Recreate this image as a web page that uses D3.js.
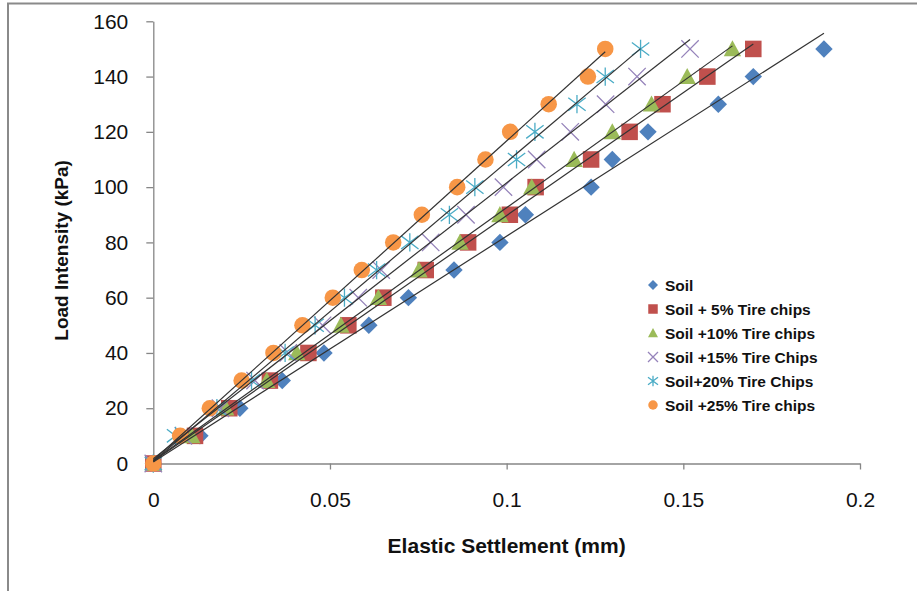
<!DOCTYPE html>
<html>
<head>
<meta charset="utf-8">
<script src="https://cdn.jsdelivr.net/npm/d3@7"></script>
<style>
  body { margin: 0; background: #fff; }
  svg { display: block; }
</style>
</head>
<body>
<div id="chart"></div>
<script>
// load steps (kPa) shared by every series
const loads = [0, 10, 20, 30, 40, 50, 60, 70, 80, 90, 100, 110, 120, 130, 140, 150];

// elastic settlement (mm)
const soil   = [0, 0.0132, 0.0245, 0.0365, 0.0483, 0.0610, 0.0722, 0.0851, 0.0981, 0.1053, 0.1239, 0.1299, 0.1400, 0.1599, 0.1698, 0.1898];
const tire5  = [0, 0.0118, 0.0215, 0.0330, 0.0439, 0.0552, 0.0651, 0.0771, 0.0891, 0.1009, 0.1082, 0.1239, 0.1348, 0.1441, 0.1568, 0.1698];
const tire10 = [0, 0.0109, 0.0205, 0.0321, 0.0406, 0.0531, 0.0637, 0.0752, 0.0868, 0.0981, 0.1071, 0.1191, 0.1299, 0.1410, 0.1511, 0.1639];
const tire15 = [0, 0.0085, 0.0190, 0.0288, 0.0382, 0.0479, 0.0580, 0.0645, 0.0785, 0.0885, 0.0991, 0.1085, 0.1180, 0.1280, 0.1369, 0.1519];
const tire20 = [0, 0.0063, 0.0180, 0.0278, 0.0373, 0.0458, 0.0541, 0.0632, 0.0726, 0.0838, 0.0910, 0.1028, 0.1080, 0.1199, 0.1279, 0.1379];
const tire25 = [0, 0.0076, 0.0160, 0.0250, 0.0340, 0.0422, 0.0508, 0.0590, 0.0679, 0.0760, 0.0860, 0.0940, 0.1010, 0.1119, 0.1230, 0.1279];

const seriesNames = ['Soil', 'Soil + 5% Tire chips', 'Soil +10% Tire chips', 'Soil +15% Tire Chips', 'Soil+20% Tire Chips', 'Soil +25% Tire chips'];
const seriesValues = [soil, tire5, tire10, tire15, tire20, tire25];
const seriesColors = ['#4F81BD', '#C0504D', '#9BBB59', '#9583BA', '#4BACC6', '#F79646'];
const seriesShapes = ['diamond', 'square', 'triangle', 'x', 'star', 'circle'];

const xTicks = [0, 0.05, 0.1, 0.15, 0.2];
const yTicks = [0, 20, 40, 60, 80, 100, 120, 140, 160];

const width = 917, height = 591;
const margin = {top: 21.3, right: 57, bottom: 127.5, left: 153.3};
const font = "'Liberation Sans', Arial, sans-serif";

const svg = d3.select('#chart')
  .append('svg')
    .attr('width', width)
    .attr('height', height);

// outer chart border (only left and top visible in the crop)
svg.append('rect')
  .attr('x', 8).attr('y', 3.5)
  .attr('width', 1000).attr('height', 1000)
  .attr('fill', 'none')
  .attr('stroke', '#8a8a8a')
  .attr('stroke-width', 2);

const x = d3.scaleLinear().domain([0, 0.2]).range([margin.left, width - margin.right]);
const y = d3.scaleLinear().domain([0, 160]).range([height - margin.bottom, margin.top]);

// axes
const xAxis = svg.append('g')
  .attr('transform', `translate(0,${y(0)})`)
  .call(d3.axisBottom(x).tickValues(xTicks).tickFormat(d => String(d))
    .tickSizeInner(6).tickSizeOuter(0).tickPadding(23));

const yAxis = svg.append('g')
  .attr('transform', `translate(${x(0)},0)`)
  .call(d3.axisLeft(y).tickValues(yTicks).tickFormat(d => String(d))
    .tickSizeInner(7).tickSizeOuter(0).tickPadding(18));

[xAxis, yAxis].forEach(a => {
  a.select('.domain').attr('stroke', '#868686').attr('stroke-width', 1.3);
  a.selectAll('.tick line').attr('stroke', '#868686').attr('stroke-width', 1.3);
  a.selectAll('.tick text')
    .attr('font-family', font)
    .attr('font-size', 21)
    .attr('fill', '#111');
});

// marker shapes
function shapePath(shape, s) {
  const p = d3.path();
  if (shape === 'diamond') {
    p.moveTo(0, -s); p.lineTo(s, 0); p.lineTo(0, s); p.lineTo(-s, 0); p.closePath();
  } else if (shape === 'square') {
    const h = s * 0.95;
    p.rect(-h, -h, 2 * h, 2 * h);
  } else if (shape === 'triangle') {
    p.moveTo(0, -s); p.lineTo(s, s * 0.85); p.lineTo(-s, s * 0.85); p.closePath();
  } else if (shape === 'circle') {
    p.arc(0, 0, s * 0.95, 0, 2 * Math.PI);
  } else if (shape === 'x') {
    p.moveTo(-s, -s); p.lineTo(s, s); p.moveTo(s, -s); p.lineTo(-s, s);
  } else if (shape === 'star') {
    p.moveTo(-s, -s * 0.75); p.lineTo(s, s * 0.75); p.moveTo(s, -s * 0.75); p.lineTo(-s, s * 0.75);
    p.moveTo(0, -s * 1.05); p.lineTo(0, s * 1.05);
  }
  return p.toString();
}
const strokeOnly = sh => sh === 'x' || sh === 'star';

function styleMarker(sel, i) {
  const sh = seriesShapes[i];
  sel.attr('fill', strokeOnly(sh) ? 'none' : seriesColors[i])
     .attr('stroke', strokeOnly(sh) ? seriesColors[i] : 'none')
     .attr('stroke-width', strokeOnly(sh) ? 1.3 : 0);
}

// data markers
const markers = svg.append('g');
seriesValues.forEach((vals, i) => {
  const pts = vals.map((v, k) => ({sx: v, load: loads[k]}));
  markers.append('g')
    .selectAll('path')
    .data(pts)
    .join('path')
      .attr('transform', d => `translate(${x(d.sx)},${y(d.load)})`)
      .attr('d', shapePath(seriesShapes[i], 8.7))
      .call(styleMarker, i);
});

// linear trendlines (least squares), drawn over markers
function linFit(xs, ys) {
  const mx = d3.mean(xs), my = d3.mean(ys);
  let num = 0, den = 0;
  xs.forEach((xv, k) => { num += (xv - mx) * (ys[k] - my); den += (xv - mx) * (xv - mx); });
  const slope = num / den;
  return {slope, intercept: my - slope * mx};
}
const trend = svg.append('g');
seriesValues.forEach(vals => {
  const f = linFit(vals, loads);
  const ends = [d3.min(vals), d3.max(vals)];
  trend.append('line')
    .attr('x1', x(ends[0])).attr('y1', y(f.intercept + f.slope * ends[0]))
    .attr('x2', x(ends[1])).attr('y2', y(f.intercept + f.slope * ends[1]))
    .attr('stroke', '#333')
    .attr('stroke-width', 1.2);
});

// axis titles
svg.append('text')
  .attr('x', (x(0) + x(0.2)) / 2)
  .attr('y', 553)
  .attr('text-anchor', 'middle')
  .attr('font-family', font)
  .attr('font-weight', 'bold')
  .attr('font-size', 21)
  .attr('fill', '#111')
  .text('Elastic Settlement (mm)');

svg.append('text')
  .attr('transform', `translate(68,${(y(0) + y(160)) / 2 + 8}) rotate(-90)`)
  .attr('text-anchor', 'middle')
  .attr('font-family', font)
  .attr('font-weight', 'bold')
  .attr('font-size', 19)
  .attr('fill', '#111')
  .text('Load Intensity (kPa)');

// legend
const legend = svg.append('g').attr('transform', 'translate(653,285)');
seriesNames.forEach((name, i) => {
  const row = legend.append('g').attr('transform', `translate(0,${i * 24})`);
  row.append('path')
    .attr('d', shapePath(seriesShapes[i], 5))
    .call(styleMarker, i);
  row.append('text')
    .attr('x', 12)
    .attr('y', 6)
    .attr('font-family', font)
    .attr('font-weight', 'bold')
    .attr('font-size', 15.5)
    .attr('fill', '#111')
    .text(name);
});
</script>
</body>
</html>
